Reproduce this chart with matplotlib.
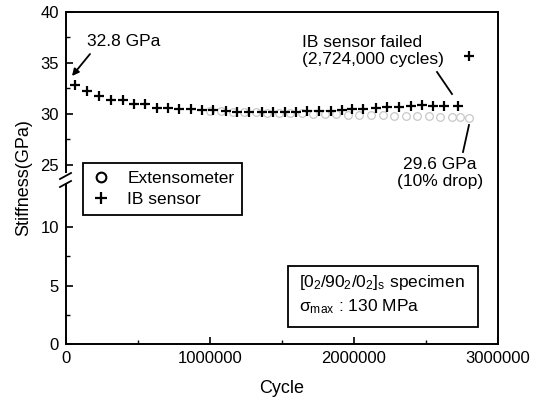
import numpy as np
import matplotlib
matplotlib.use("Agg")
import matplotlib.pyplot as plt
from matplotlib.lines import Line2D
from matplotlib.patches import Rectangle

plt.rcParams['font.family'] = ['Liberation Sans', 'DejaVu Sans']
plt.rcParams['mathtext.fontset'] = 'custom'
plt.rcParams['mathtext.rm'] = 'Liberation Sans'
plt.rcParams['mathtext.it'] = 'Liberation Sans:italic'

# ---------------- data ----------------
ib_cycles = [66700, 148000, 233000, 317000, 396000, 476000, 553000, 634000, 710000,
             789000, 870000, 947000, 1025000, 1111000, 1192000, 1273000, 1361000,
             1442000, 1523000, 1597000, 1678000, 1759000, 1840000, 1917000, 1990000,
             2067000, 2153000, 2233000, 2315000, 2396000, 2476000, 2553000, 2627000,
             2724000, 2800000]
ib_stiffness = [32.8, 32.2, 31.8, 31.4, 31.4, 31.0, 31.0, 30.6, 30.6, 30.5, 30.5, 30.4,
                30.4, 30.3, 30.2, 30.2, 30.2, 30.2, 30.2, 30.2, 30.3, 30.3, 30.3, 30.4,
                30.5, 30.5, 30.6, 30.7, 30.7, 30.8, 30.9, 30.8, 30.8, 30.8, 35.7]

ext_cycles = [1000000, 1080000, 1160000, 1240000, 1320000, 1400000, 1480000, 1560000,
              1640000, 1720000, 1800000, 1880000, 1960000, 2040000, 2120000, 2200000,
              2280000, 2360000, 2440000, 2520000, 2600000, 2680000, 2740000, 2800000]
ext_stiffness = [30.3, 30.3, 30.2, 30.2, 30.2, 30.1, 30.1, 30.1, 30.1, 30.0, 30.0, 30.0,
                 29.9, 29.9, 29.9, 29.9, 29.8, 29.8, 29.8, 29.8, 29.7, 29.7, 29.7, 29.6]

x_ticks = [0, 1000000, 2000000, 3000000]
x_ticklabels = ['0', '1000000', '2000000', '3000000']
y_ticks = [0, 5, 10, 25, 30, 35, 40]
y_minor = [2.5, 7.5, 27.5, 32.5, 37.5]

# ---------------- broken y scale ----------------
_yd = np.array([0.0, 14.0, 23.5, 40.0])
_yt = np.array([0.0, 163.6, 164.0, 332.3])

def _fwd(y):
    y = np.asarray(y, dtype=float)
    out = np.interp(y, _yd, _yt)
    lo = y < _yd[0]
    hi = y > _yd[-1]
    out = np.where(lo, _yt[0] + (y - _yd[0]) * (_yt[1] - _yt[0]) / (_yd[1] - _yd[0]), out)
    out = np.where(hi, _yt[-1] + (y - _yd[-1]) * (_yt[-1] - _yt[-2]) / (_yd[-1] - _yd[-2]), out)
    return out

def _inv(t):
    t = np.asarray(t, dtype=float)
    out = np.interp(t, _yt, _yd)
    lo = t < _yt[0]
    hi = t > _yt[-1]
    out = np.where(lo, _yd[0] + (t - _yt[0]) * (_yd[1] - _yd[0]) / (_yt[1] - _yt[0]), out)
    out = np.where(hi, _yd[-1] + (t - _yt[-1]) * (_yd[-1] - _yd[-2]) / (_yt[-1] - _yt[-2]), out)
    return out

W, H = 536, 401
fig = plt.figure(figsize=(W / 100, H / 100), dpi=100)
AX_L, AX_R, AX_T, AX_B = 65.7, 497.7, 12.0, 344.0
ax = fig.add_axes([AX_L / W, (H - AX_B) / H, (AX_R - AX_L) / W, (AX_B - AX_T) / H])
ax.set_yscale('function', functions=(_fwd, _inv))

def fx(px):
    return (px - AX_L) / (AX_R - AX_L)

def fy(py):
    return (AX_B - py) / (AX_B - AX_T)

ax.plot(ext_cycles, ext_stiffness, linestyle='none', marker='o', ms=5.5, mfc='none',
        mec='#c8c8c8', mew=0.9, zorder=2)
ax.plot(ib_cycles, ib_stiffness, linestyle='none', marker='+', ms=7.5, mew=1.6,
        color='black', zorder=3)

ax.set_xlim(0, 3000000)
ax.set_ylim(0, 40)
ax.set_xticks(x_ticks)
ax.set_xticklabels(x_ticklabels)
ax.set_xticks([500000, 1500000, 2500000], minor=True)
ax.set_yticks(y_ticks)
ax.set_yticklabels([str(v) for v in y_ticks])
ax.set_yticks(y_minor, minor=True)
ax.tick_params(which='both', direction='in', top=False, right=False, labelsize=12, pad=5)
ax.tick_params(which='major', length=5, width=1.2)
ax.tick_params(which='minor', length=3, width=1.0)
for s in ax.spines.values():
    s.set_linewidth(1.4)

ax.set_xlabel('Cycle', fontsize=13, labelpad=10)
ax.set_ylabel('Stiffness(GPa)', fontsize=13, labelpad=6)

# axis break marks on left spine ("//")
ax.add_patch(Rectangle((-0.01, fy(183)), 0.02, fy(173) - fy(183), transform=ax.transAxes,
                       facecolor='white', edgecolor='none', clip_on=False, zorder=5))
for cy in (184, 176):
    ax.plot([fx(60), fx(71)], [fy(cy + 3), fy(cy - 3)], transform=ax.transAxes,
            color='black', lw=1.3, clip_on=False, zorder=6)

# legend
handles = [Line2D([], [], linestyle='none', marker='o', ms=7, mfc='none', mec='black', mew=1.5),
           Line2D([], [], linestyle='none', marker='+', ms=8, mew=1.6, color='black')]
leg = ax.legend(handles, ['Extensometer', 'IB sensor'], loc='upper left',
                bbox_to_anchor=(fx(83), fy(163)), borderaxespad=0, fancybox=False,
                frameon=True, fontsize=12.5, handlelength=1.2, handletextpad=0.9,
                borderpad=0.45, labelspacing=0.35)
leg.get_frame().set_edgecolor('black')
leg.get_frame().set_linewidth(1.3)
leg.get_frame().set_alpha(1)

# specimen box
ax.add_patch(Rectangle((fx(288), fy(327)), fx(478) - fx(288), fy(266) - fy(327),
                       transform=ax.transAxes, facecolor='white', edgecolor='black',
                       lw=1.3, zorder=4))
ax.text(fx(299), fy(282), r'$[0_2/90_2/0_2]_{\rm s}$ specimen', transform=ax.transAxes,
        fontsize=12.5, ha='left', va='center', zorder=5)
ax.text(fx(299), fy(307), r'$\mathrm{\sigma}_{\rm max}$ : 130 MPa', transform=ax.transAxes,
        fontsize=12.5, ha='left', va='center', zorder=5)

# annotations
ax.text(fx(87), fy(41), '32.8 GPa', transform=ax.transAxes, fontsize=12.5,
        ha='left', va='center')
ax.annotate('', xy=(fx(72), fy(76)), xytext=(fx(90), fy(54)), xycoords='axes fraction',
            textcoords='axes fraction',
            arrowprops=dict(arrowstyle='-|>', color='black', lw=1.3, mutation_scale=10,
                            shrinkA=0, shrinkB=0))

ax.text(fx(302), fy(51), 'IB sensor failed\n(2,724,000 cycles)', transform=ax.transAxes,
        fontsize=12.5, ha='left', va='center', linespacing=1.15)
ax.plot([fx(437), fx(452)], [fy(72), fy(94)], transform=ax.transAxes, color='black', lw=1.3)

ax.text(fx(440), fy(173), '29.6 GPa\n(10% drop)', transform=ax.transAxes,
        fontsize=12.5, ha='center', va='center', linespacing=1.15)
ax.plot([fx(469), fx(463)], [fy(125), fy(152)], transform=ax.transAxes, color='black', lw=1.3)

fig.savefig('out.png', dpi=100)
